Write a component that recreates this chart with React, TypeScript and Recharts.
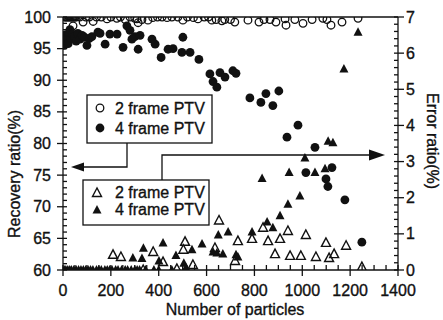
import React from "react";
import { ScatterChart, Scatter, XAxis, YAxis, ReferenceLine } from "recharts";

// Recovery ratio (%) — 2 frame PTV (open circles)
const recovery2: number[][] = [
  [5, 100], [10, 100], [15, 100], [20, 100], [25, 100], [30, 100], [35, 100], [40, 100], [45, 100], [50, 100], [55, 100],
  [42, 98.6], [70, 100], [84, 99.2], [95, 100], [110, 100], [126, 99.3], [140, 100], [160, 100], [184, 99.7], [200, 100],
  [225, 99.8], [240, 100], [260, 99.6], [280, 100], [300, 99.8], [309, 99.7], [314, 99.1], [330, 99.6], [355, 99.5],
  [375, 99.9], [395, 100], [414, 100], [435, 99.9], [455, 100], [480, 100], [501, 99.5], [520, 100], [545, 99.9],
  [564, 99.7], [590, 100], [608, 100], [622, 99.5], [640, 99.6], [664, 99.4], [676, 99.6], [700, 99.6], [718, 99.2],
  [773, 99.5], [819, 99.2], [840, 99.6], [865, 99.6], [890, 99.2], [928, 99.7], [932, 98.7], [969, 99.6], [1003, 99.0],
  [1041, 99.6], [1086, 99.8], [1103, 99.6], [1120, 98.7], [1166, 99.2], [1233, 99.8],
];

// Recovery ratio (%) — 4 frame PTV (filled circles)
const recovery4: number[][] = [
  [5, 95.5], [8, 96.4], [12, 97.2], [17, 96.8], [22, 95.8], [29, 98.0], [33, 96.6], [40, 97.3], [48, 96.9], [55, 96.2],
  [62, 97.4], [71, 96.5], [80, 97.1], [90, 96.8], [100, 95.5], [110, 96.6], [121, 96.9], [146, 97.6], [155, 97.4],
  [176, 95.7], [196, 97.3], [226, 97.3], [251, 95.2], [267, 98.6], [280, 97.9], [288, 96.5], [300, 96.9], [314, 94.9],
  [322, 97.1], [372, 96.5], [385, 95.7], [410, 93.6], [439, 94.9], [460, 95.0], [497, 94.4], [501, 96.8], [531, 94.4],
  [568, 93.3], [614, 91.0], [627, 89.8], [643, 88.9], [656, 91.2], [677, 90.5], [710, 91.5], [723, 91.1], [781, 87.2],
  [827, 86.5], [848, 87.9], [877, 86.0], [902, 88.3], [936, 81.0], [982, 82.9], [1015, 75.4], [1053, 79.4], [1099, 74.4],
  [1107, 73.2], [1124, 76.2], [1178, 71.1], [1249, 64.4],
];

// Error ratio (%) — 2 frame PTV (open triangles)
const error2: number[][] = [
  [209, 0.42], [242, 0.36], [335, 0.0], [377, 0.5], [418, 0.22], [476, 0.03], [503, 0.56], [510, 0.78], [543, 0.14],
  [635, 0.61], [652, 1.37], [719, 0.25], [731, 0.8], [790, 0.86], [836, 1.17], [857, 0.8], [886, 0.44], [907, 0.86],
  [940, 1.08], [949, 0.39], [994, 0.39], [1015, 0.97], [1057, 0.36], [1099, 0.75], [1112, 0.33], [1133, 0.44],
  [1183, 0.67], [1249, 0.08],
];

// Error ratio (%) — 4 frame PTV (filled triangles)
const error4: number[][] = [
  [5, 0], [12, 0], [20, 0], [28, 0], [35, 0], [45, 0], [55, 0], [65, 0], [75, 0], [85, 0], [95, 0], [105, 0], [115, 0],
  [125, 0], [140, 0], [150, 0], [160, 0], [175, 0], [185, 0], [195, 0], [205, 0], [220, 0], [230, 0], [245, 0], [260, 0],
  [270, 0], [285, 0], [300, 0], [310, 0], [320, 0], [345, 0], [380, 0], [400, 0], [455, 0], [518, 0],
  [292, 0.33], [330, 0.32], [336, 0.6], [401, 0.25], [418, 0.75], [472, 0.4], [505, 0.19], [514, 0.06], [539, 0.56],
  [581, 0.72], [627, 0.5], [643, 0.47], [649, 0.97], [668, 0.44], [690, 1.05], [723, 0.42], [731, 0.36], [790, 1.05],
  [832, 2.53], [853, 1.33], [877, 1.17], [907, 1.5], [940, 1.82], [945, 2.7], [990, 2.05], [1011, 3.1], [1053, 2.7],
  [1095, 2.8], [1108, 3.56], [1128, 3.52], [1174, 5.56], [1233, 6.58],
];

const xTicks = [0, 50, 100, 150, 200, 250, 300, 350, 400, 450, 500, 550, 600, 650, 700, 750, 800, 850, 900, 950, 1000, 1050, 1100, 1150, 1200, 1250, 1300, 1350, 1400];
const xMajor = [0, 200, 400, 600, 800, 1000, 1200, 1400];
const leftTicks = [60, 61, 62, 63, 64, 65, 66, 67, 68, 69, 70, 71, 72, 73, 74, 75, 76, 77, 78, 79, 80, 81, 82, 83, 84, 85, 86, 87, 88, 89, 90, 91, 92, 93, 94, 95, 96, 97, 98, 99, 100];
const leftMajor = [60, 65, 70, 75, 80, 85, 90, 95, 100];
const rightTicks = [0, 0.2, 0.4, 0.6, 0.8, 1, 1.2, 1.4, 1.6, 1.8, 2, 2.2, 2.4, 2.6, 2.8, 3, 3.2, 3.4, 3.6, 3.8, 4, 4.2, 4.4, 4.6, 4.8, 5, 5.2, 5.4, 5.6, 5.8, 6, 6.2, 6.4, 6.6, 6.8, 7];
const rightMajor = [0, 1, 2, 3, 4, 5, 6, 7];

const INK = "#111";
const FONT = "'Liberation Sans', Arial, sans-serif";
const TXT = { fontSize: 16, fontFamily: FONT, fill: INK, stroke: INK, strokeWidth: 0.35 };

const toPts = (arr: number[][]) => arr.map(([x, y]) => ({ x, y }));

const LeftTick = (p: any) => {
  const { x, y, payload } = p;
  const major = leftMajor.includes(payload.value);
  return (
    <g>
      <line x1={major ? x - 6 : x} x2={x + 4} y1={y} y2={y} stroke={INK} strokeWidth={1.3} />
      {major && (
        <text x={x - 12} y={y} dy={5.5} textAnchor="end" {...TXT}>
          {payload.value}
        </text>
      )}
    </g>
  );
};

const RightTick = (p: any) => {
  const { x, y, payload } = p;
  const major = rightMajor.includes(payload.value);
  return (
    <g>
      <line x1={x - 4} x2={major ? x + 6 : x} y1={y} y2={y} stroke={INK} strokeWidth={1.3} />
      {major && (
        <text x={x + 8} y={y} dy={5.5} textAnchor="start" {...TXT}>
          {payload.value}
        </text>
      )}
    </g>
  );
};

const BottomTick = (p: any) => {
  const { x, y, payload } = p;
  const major = xMajor.includes(payload.value);
  return (
    <g>
      <line x1={x} x2={x} y1={y - 5} y2={major ? y + 6 : y} stroke={INK} strokeWidth={1.3} />
      {major && (
        <text x={x} y={y + 26} textAnchor="middle" {...TXT}>
          {payload.value}
        </text>
      )}
    </g>
  );
};

const OpenCircle = (p: any) => <circle cx={p.cx} cy={p.cy} r={3.8} fill="none" stroke={INK} strokeWidth={1.3} />;
const FilledCircle = (p: any) => <circle cx={p.cx} cy={p.cy} r={4.4} fill={INK} />;
const triPts = (cx: number, cy: number) => `${cx},${cy - 5} ${cx - 4.5},${cy + 3.5} ${cx + 4.5},${cy + 3.5}`;
const OpenTri = (p: any) => <polygon points={triPts(p.cx, p.cy)} fill="none" stroke={INK} strokeWidth={1.4} />;
const FilledTri = (p: any) => <polygon points={triPts(p.cx, p.cy)} fill={INK} />;

export default function App() {
  return (
    <div style={{ position: "absolute", left: 0, top: 0, width: 443, height: 320, background: "#fff" }}>
      <ScatterChart width={443} height={320} margin={{ top: 17, right: 15, bottom: 20, left: 18 }}>
        <XAxis
          type="number"
          dataKey="x"
          domain={[0, 1400]}
          ticks={xTicks}
          interval={0}
          tickSize={0}
          tickMargin={0}
          tick={<BottomTick />}
          height={30}
          stroke={INK}
          strokeWidth={1.3}
          allowDataOverflow
        />
        <YAxis
          yAxisId="left"
          type="number"
          dataKey="y"
          domain={[60, 100]}
          ticks={leftTicks}
          interval={0}
          tickSize={0}
          tickMargin={0}
          tick={<LeftTick />}
          width={45}
          stroke={INK}
          strokeWidth={1.3}
          allowDataOverflow
        />
        <YAxis
          yAxisId="right"
          orientation="right"
          type="number"
          dataKey="y"
          domain={[0, 7]}
          ticks={rightTicks}
          interval={0}
          tickSize={0}
          tickMargin={0}
          tick={<RightTick />}
          width={30}
          stroke={INK}
          strokeWidth={1.3}
          allowDataOverflow
        />
        <ReferenceLine yAxisId="left" y={100} stroke={INK} strokeWidth={1.3} />
        <Scatter yAxisId="left" data={toPts(recovery2)} shape={<OpenCircle />} isAnimationActive={false} />
        <Scatter yAxisId="left" data={toPts(recovery4)} shape={<FilledCircle />} isAnimationActive={false} />
        <Scatter yAxisId="right" data={toPts(error2)} shape={<OpenTri />} isAnimationActive={false} />
        <Scatter yAxisId="right" data={toPts(error4)} shape={<FilledTri />} isAnimationActive={false} />
      </ScatterChart>
      <svg width={443} height={320} style={{ position: "absolute", left: 0, top: 0, pointerEvents: "none" }}>
        <g {...TXT}>
          {/* legend 1 */}
          <rect x={87} y={95} width={125} height={48} fill="#fff" stroke={INK} strokeWidth={1.3} />
          <circle cx={100} cy={108} r={3.8} fill="none" stroke={INK} strokeWidth={1.3} />
          <text x={115} y={114}>2 frame PTV</text>
          <circle cx={100} cy={128} r={4.4} fill={INK} stroke="none" />
          <text x={115} y={134}>4 frame PTV</text>
          <polyline points="127,143 127,167 82,167" fill="none" stroke={INK} strokeWidth={1.3} />
          <polygon points="71,167 84,162.5 84,171.5" fill={INK} stroke="none" />
          {/* legend 2 */}
          <rect x={83} y={180} width={126} height={45} fill="#fff" stroke={INK} strokeWidth={1.3} />
          <polygon points={triPts(97, 193)} fill="none" stroke={INK} strokeWidth={1.4} />
          <text x={115} y={198}>2 frame PTV</text>
          <polygon points={triPts(97, 210)} fill={INK} stroke="none" />
          <text x={115} y={215}>4 frame PTV</text>
          <polyline points="162,180 162,155 372,155" fill="none" stroke={INK} strokeWidth={1.3} />
          <polygon points="385,155 369,149.5 369,160.5" fill={INK} stroke="none" />
          {/* axis titles */}
          <text x={235} y={315} textAnchor="middle">Number of particles</text>
          <text transform="translate(20,174) rotate(-90)" textAnchor="middle">Recovery ratio(%)</text>
          <text transform="translate(427,141) rotate(90)" textAnchor="middle">Error ratio(%)</text>
        </g>
      </svg>
    </div>
  );
}
